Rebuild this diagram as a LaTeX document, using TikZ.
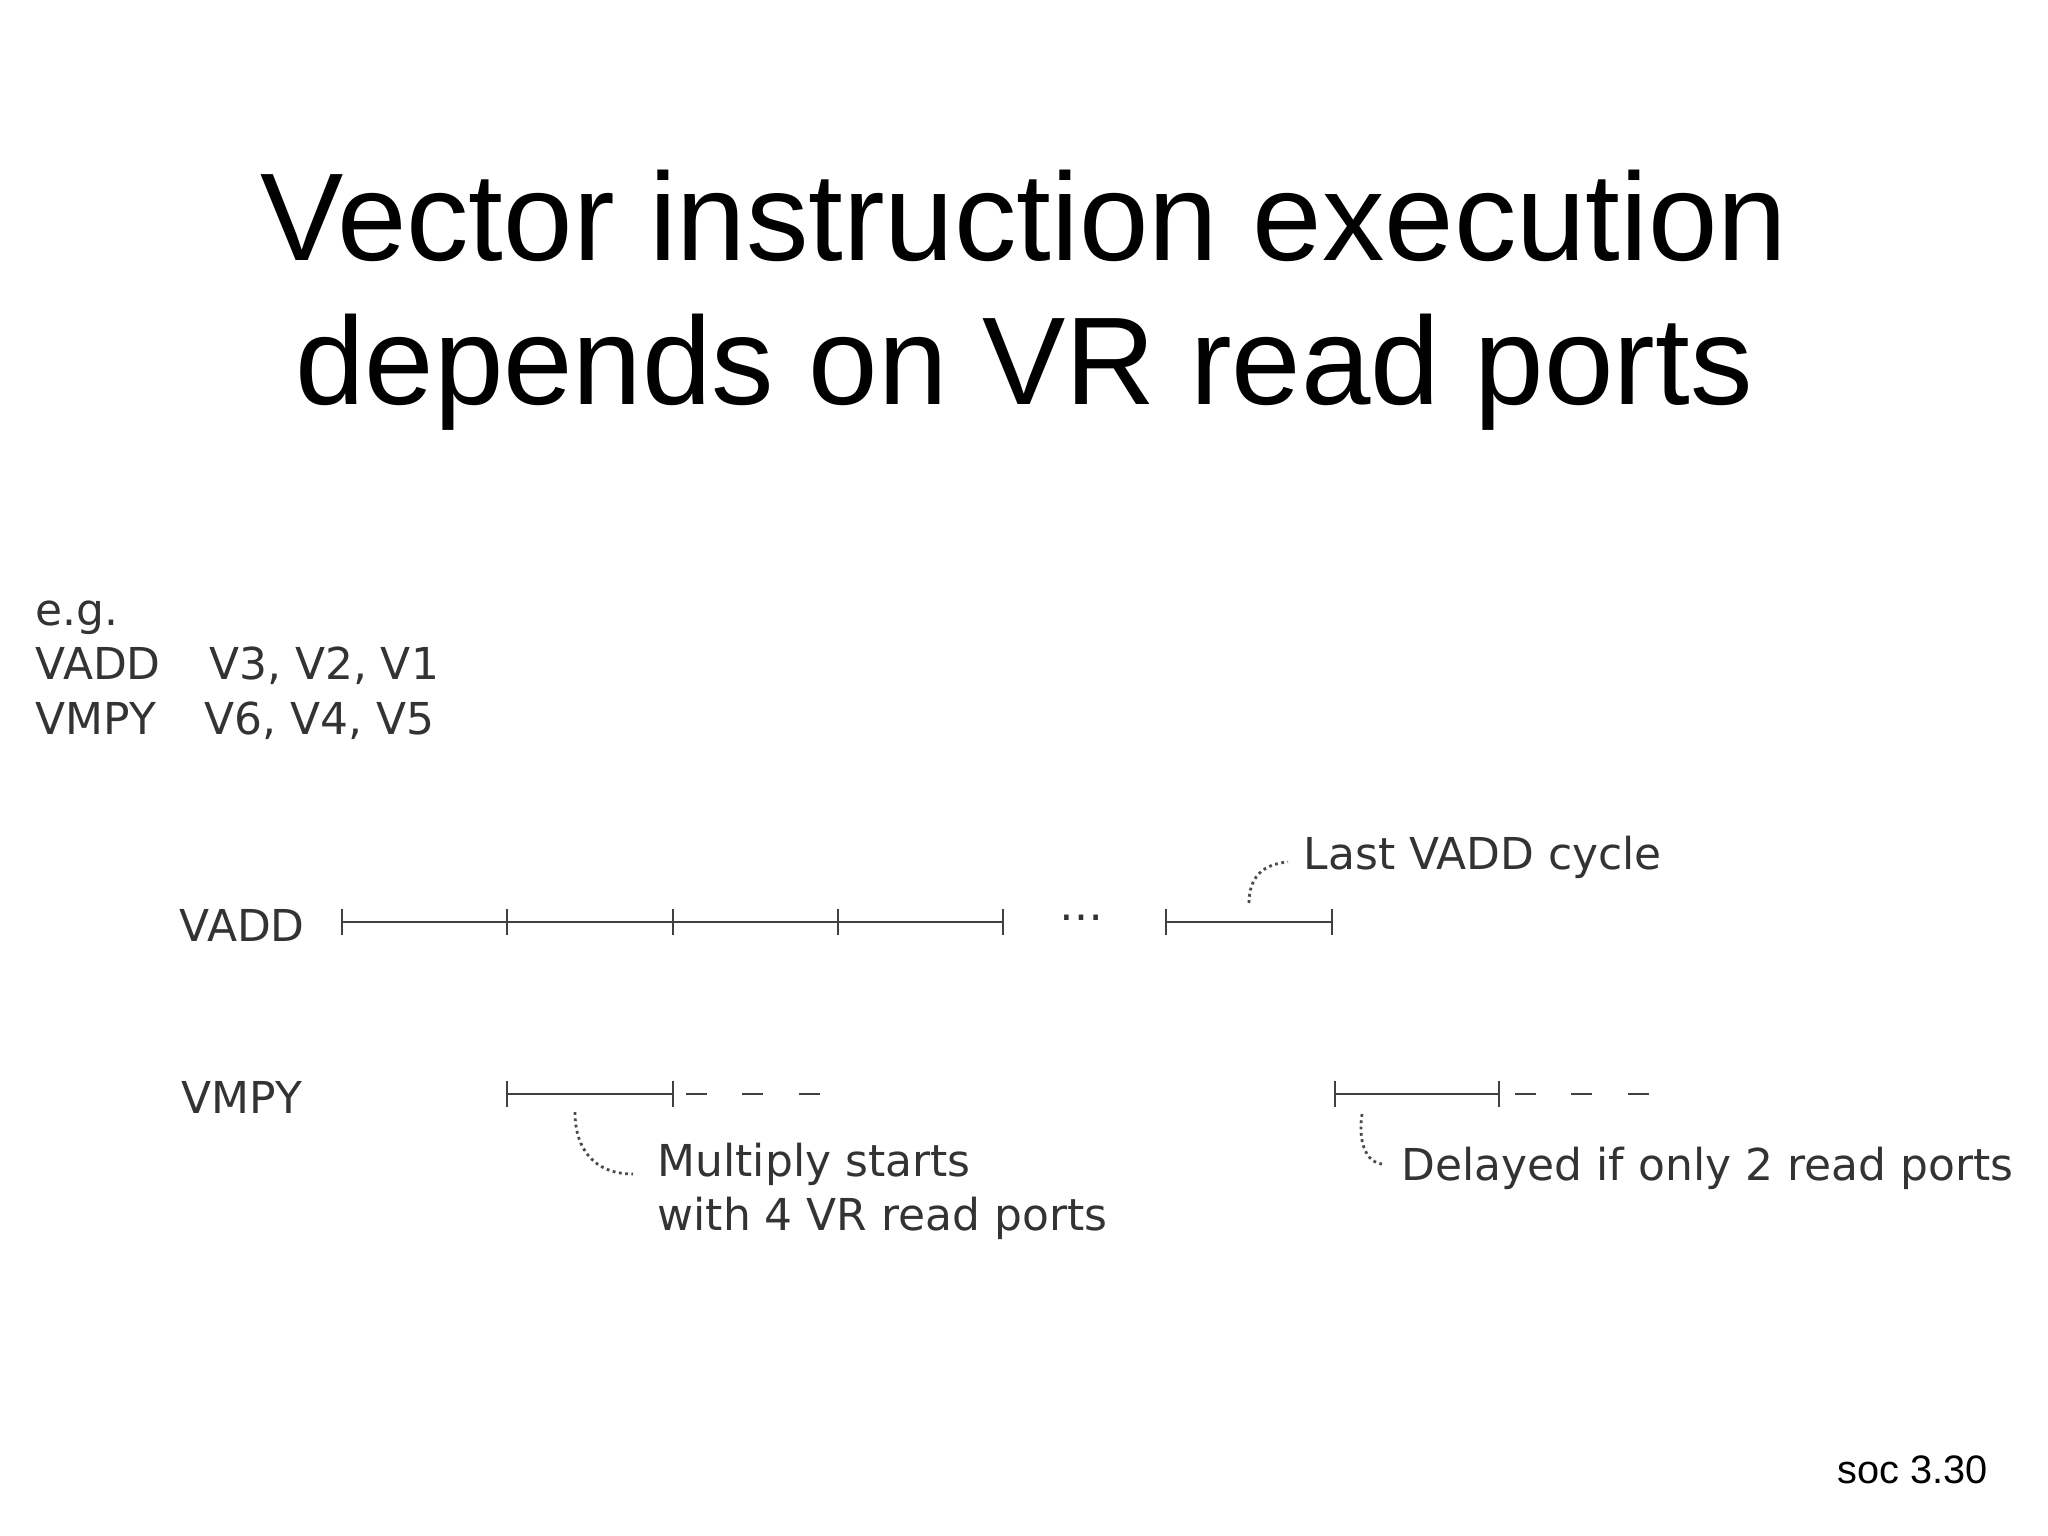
\documentclass[tikz,border=0pt]{standalone}
\usepackage{fontspec}
\setmainfont{Liberation Sans}
\newfontfamily\labelfont{DejaVu Sans}
\begin{document}
\begin{tikzpicture}[x=0.01cm,y=-0.01cm,
  lbl/.style={font=\labelfont\fontsize{12.5}{15.5}\selectfont, text=black!80, inner sep=0pt},
  bar/.style={thick, black!75},
  tick/.style={thick, black!75},
  note/.style={densely dotted, thick, black!70}]
\useasboundingbox (0,0) rectangle (2048,1536);
% Titel
\node (title) [font=\fontsize{35.5}{41}\selectfont, align=center] at (1024,300) {Vector instruction execution\\depends on VR read ports};
% Beispiel
\node (eg) [lbl, anchor=north west, align=left] at (35,600) {e.g.\\VADD\hspace{1.1em}V3, V2, V1\\VMPY\hspace{1.1em}V6, V4, V5};
% Zeitachsen
\node (vadd) [lbl, anchor=west] at (179,925) {VADD};
\node (vmpy) [lbl, anchor=west] at (181,1097) {VMPY};
\foreach \x [count=\i] in {342,507,673,838,1003,1166,1332} {
  \coordinate (a\i) at (\x,922);
  \draw[tick] (\x,909) -- (\x,935);
}
\draw[bar] (a1) -- (a5);
\draw[bar] (a6) -- (a7);
\node (dots) [lbl] at (1081,918) {\dots};
\foreach \x [count=\i] in {507,673,1335,1499} {
  \coordinate (m\i) at (\x,1094);
  \draw[tick] (\x,1081) -- (\x,1107);
}
\draw[bar] (m1) -- (m2);
\draw[bar] (m3) -- (m4);
\draw[bar, dash pattern=on 6pt off 10pt] (686,1094) -- (836,1094);
\draw[bar, dash pattern=on 6pt off 10pt] (1515,1094) -- (1661,1094);
% Hinweise
\node (last) [lbl, anchor=west] at (1303,857) {Last VADD cycle};
\node (mult) [lbl, anchor=north west, align=left] at (657,1142) {Multiply starts\\with 4 VR read ports};
\node (delay) [lbl, anchor=west] at (1401,1168) {Delayed if only 2 read ports};
\draw[note] (1249,903) .. controls (1249,878) and (1262,864) .. (1288,862);
\draw[note] (575,1112) .. controls (575,1150) and (595,1174) .. (633,1174);
\draw[note] (1362,1114) .. controls (1358,1140) and (1365,1162) .. (1382,1164);
\node (soc) [font=\fontsize{11.3}{14}\selectfont, anchor=east] at (2000,1470) {soc 3.30};
\end{tikzpicture}
\end{document}
